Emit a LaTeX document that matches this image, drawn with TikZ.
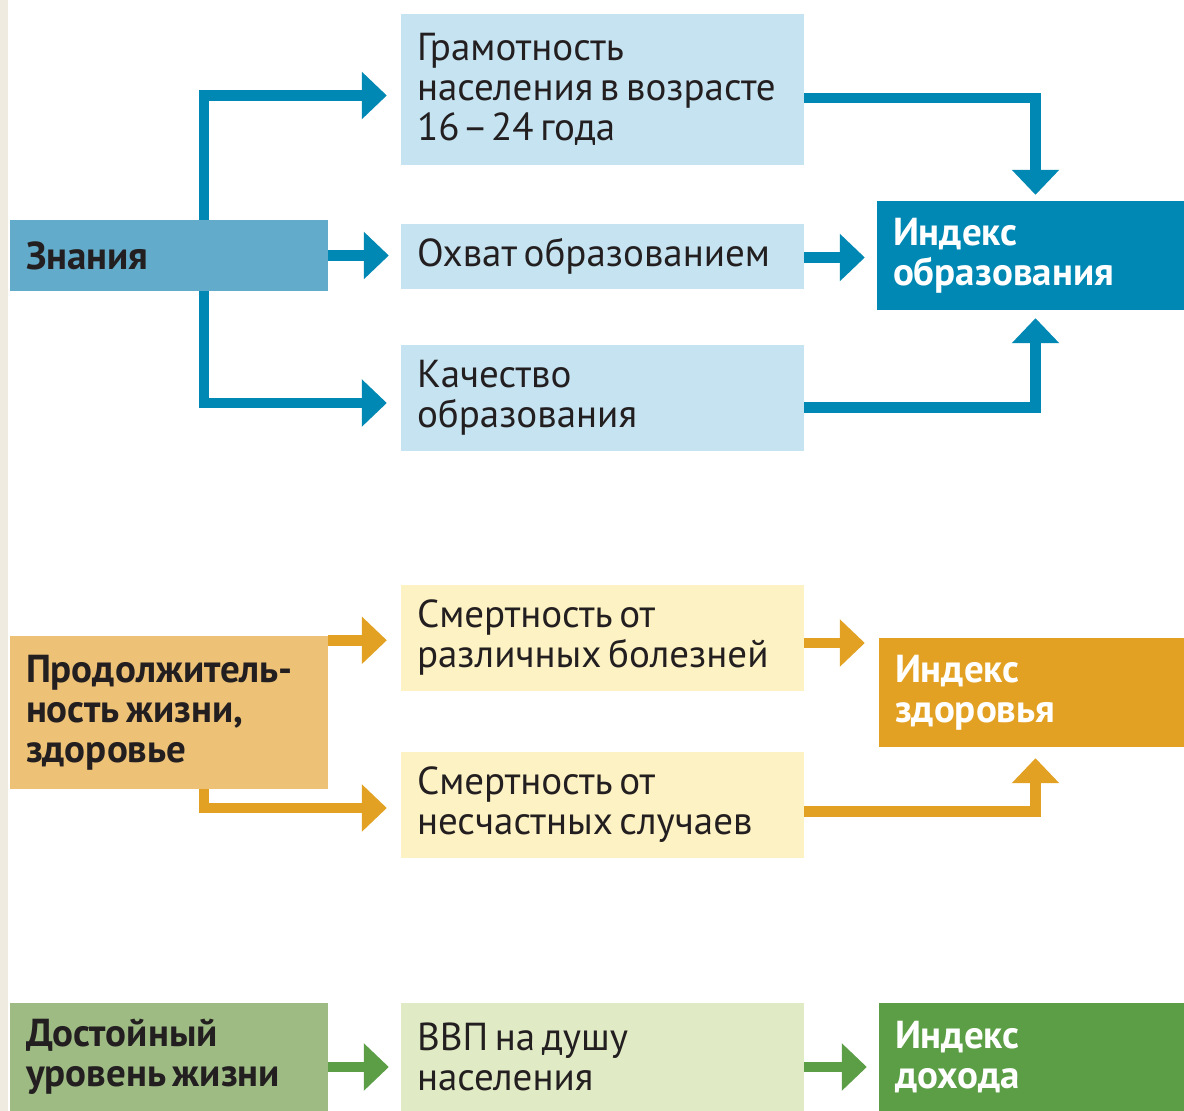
\documentclass[tikz,border=0pt]{standalone}
\usepackage{fontspec}
\setmainfont{PT Sans}
\usetikzlibrary{arrows.meta}
\definecolor{bluedark}{RGB}{0,136,180}
\definecolor{bluemid}{RGB}{99,171,203}
\definecolor{bluelight}{RGB}{197,227,240}
\definecolor{orgdark}{RGB}{227,161,36}
\definecolor{orgmid}{RGB}{237,194,119}
\definecolor{orglight}{RGB}{253,242,195}
\definecolor{grndark}{RGB}{91,158,69}
\definecolor{grnmid}{RGB}{158,187,132}
\definecolor{grnlight}{RGB}{224,235,198}
\definecolor{strip}{RGB}{239,235,225}
\definecolor{ink}{RGB}{35,31,32}
\tikzset{
  x=1pt, y=-1pt,
  boxbase/.style={rectangle, inner xsep=16pt, inner ysep=0pt, align=left, font=\fontsize{39}{40}\selectfont, text=ink,
    execute at begin node={\spaceskip=0.17em plus 0.05em minus 0.02em\relax}},
  leftbox/.style={boxbase, minimum width=318pt, text width=286pt, font=\fontsize{39}{40}\selectfont\bfseries},
  midbox/.style={boxbase, minimum width=403pt, text width=371pt},
  idxbox/.style={boxbase, text=white, font=\fontsize{39}{40}\selectfont\bfseries},
  conn/.style={line width=10.5pt, -{Triangle[length=25pt,width=46pt]}, shorten >=12pt}
}
\begin{document}
\begin{tikzpicture}
\useasboundingbox (0,0) rectangle (1184,1111);
\fill[white] (0,0) rectangle (1184,1111);
\fill[strip] (0,0) rectangle (8,1111);

% Education
\node[leftbox, fill=bluemid, minimum height=71pt] (zn) at (169,255.5) {Знания};
\node[midbox, fill=bluelight, minimum height=151pt] (gr) at (602.5,89.5) {Грамотность\\населения в возрасте\\16\kern3pt–\kern3pt24 года};
\node[midbox, fill=bluelight, minimum height=65pt] (oh) at (602.5,256.5) {Охват образованием};
\node[midbox, fill=bluelight, minimum height=106pt] (ka) at (602.5,398) {Качество\\образования};
\node[idxbox, fill=bluedark, minimum width=307pt, text width=275pt, minimum height=109pt] (ie) at (1030.5,255.5) {Индекс\\образования};

\draw[conn, bluedark, shorten >=14pt] ([xshift=35pt]zn.north) |- ([yshift=-6pt]gr.west);
\draw[conn, bluedark] (zn.east) -- (zn.east -| oh.west);
\draw[conn, bluedark, shorten >=14pt] ([xshift=35pt]zn.south) |- ([yshift=-5pt]ka.west);
\draw[conn, bluedark, shorten >=6pt] ([yshift=-8.5pt]gr.east) -| ([xshift=5pt]ie.north);
\draw[conn, bluedark] ([yshift=-1pt]oh.east) -- ([yshift=-1pt]oh.east -| ie.west);
\draw[conn, bluedark, shorten >=8pt] ([yshift=-9.5pt]ka.east) -| ([xshift=5pt]ie.south);

% Health
\node[midbox, fill=orglight, minimum height=106pt] (s1) at (602.5,637.5) {Смертность от\\различных болезней};
\node[midbox, fill=orglight, minimum height=106pt] (s2) at (602.5,804.5) {Смертность от\\несчастных случаев};
\node[idxbox, fill=orgdark, minimum width=305pt, text width=273pt, minimum height=109pt] (ih) at (1031.5,692.5) {Индекс\\здоровья};
\node[leftbox, fill=orgmid, minimum height=153pt] (ph) at (169,712.5) {Продолжитель-\\ность жизни,\\здоровье};
\draw[conn, orgdark, shorten >=14pt] ([yshift=-4.5pt]ph.north east) -- ([yshift=-4.5pt]ph.north east -| s1.west);
\draw[conn, orgdark, shorten >=14pt] ([xshift=35pt]ph.south) |- ([yshift=-3.5pt]s2.west);
\draw[conn, orgdark, shorten >=14pt] ([yshift=-5.5pt]s1.east) -- ([yshift=-5.5pt]s1.east -| ih.west);
\draw[conn, orgdark, shorten >=11pt] ([yshift=-7pt]s2.east) -| ([xshift=4pt]ih.south);

% Income
\node[leftbox, fill=grnmid, minimum height=108pt] (dz) at (169,1057) {Достойный\\уровень жизни};
\node[midbox, fill=grnlight, minimum height=108pt] (vvp) at (602.5,1057) {ВВП на душу\\населения};
\node[idxbox, fill=grndark, minimum width=305pt, text width=273pt, minimum height=108pt] (id) at (1031.5,1057) {Индекс\\дохода};
\draw[conn, grndark] ([yshift=-10pt]dz.east) -- ([yshift=-10pt]dz.east -| vvp.west);
\draw[conn, grndark] ([yshift=-10pt]vvp.east) -- ([yshift=-10pt]vvp.east -| id.west);
\end{tikzpicture}
\end{document}
